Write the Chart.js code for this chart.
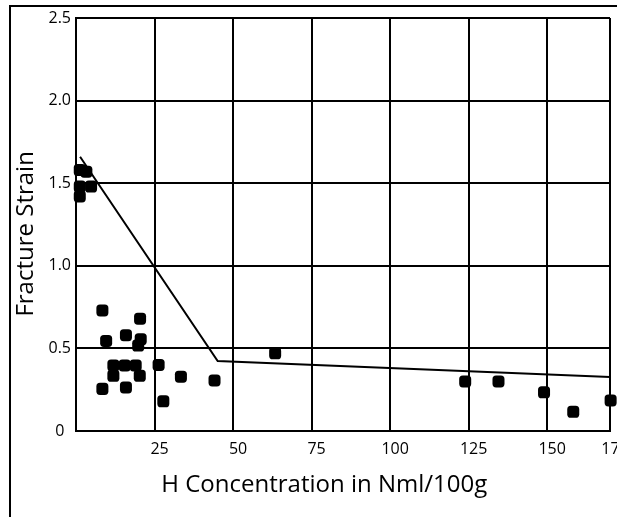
<!DOCTYPE html>
<html>
<head>
<meta charset="utf-8">
<script src="https://cdn.jsdelivr.net/npm/chart.js@4"></script>
<style>
  html, body { margin: 0; padding: 0; background: #fff; overflow: hidden; }
  #wrap { position: relative; width: 617px; height: 517px; }
  #frame { position: absolute; left: 9px; top: 5px; width: 700px; height: 600px;
           border-left: 2px solid #000; border-top: 2px solid #000; }
  #chart { position: absolute; left: 0; top: 0; }
</style>
</head>
<body>
<div id="wrap">
  <div id="frame"></div>
  <canvas id="chart" width="617" height="517"></canvas>
</div>
<script>
// measured points: H concentration (Nml/100g) vs fracture strain
var hConc = [1.2, 3.3, 1.2, 4.8, 1.2, 8.4, 20.4, 9.6, 15.9, 19.8, 20.6, 11.9, 15.5, 19.0,
             26.3, 11.9, 20.3, 8.4, 15.9, 33.4, 44.1, 27.8, 63.4, 123.9, 134.5, 149, 158.3, 170.2];
var strain = [1.58, 1.57, 1.48, 1.48, 1.42, 0.73, 0.68, 0.545, 0.58, 0.517, 0.556, 0.397, 0.397, 0.397,
              0.40, 0.334, 0.334, 0.255, 0.264, 0.329, 0.306, 0.18, 0.47, 0.30, 0.30, 0.234, 0.116, 0.185];

// fitted trend line (two segments)
var lineX = [1.3, 45.1, 170];
var lineY = [1.66, 0.424, 0.327];

var xTickValues = [25, 50, 75, 100, 125, 150, 170];
var xTickLabels = ['25', '50', '75', '100', '125', '150', '175'];
var yTickValues = [0, 0.5, 1, 1.5, 2, 2.5];
var yTickLabels = ['0', '0.5', '1.0', '1.5', '2.0', '2.5'];

var toXY = function(xs, ys) {
  return xs.map(function(x, i) { return { x: x, y: ys[i] }; });
};

// titles sit a bit off-centre in the original, trailing nbsp nudges them
var nbsp = function(n) { return new Array(n + 1).join('\u00a0'); };

var tickFont = { family: 'Open Sans', size: 16 };
var titleFont = { family: 'Open Sans', size: 24 };

new Chart(document.getElementById('chart').getContext('2d'), {
  type: 'scatter',
  data: {
    datasets: [
      {
        data: toXY(hConc, strain),
        pointStyle: 'rectRounded',
        pointRadius: 7,
        backgroundColor: '#000',
        borderColor: '#000',
        borderWidth: 0,
        clip: false
      },
      {
        data: toXY(lineX, lineY),
        showLine: true,
        borderColor: '#000',
        borderWidth: 2,
        pointRadius: 0,
        tension: 0
      }
    ]
  },
  options: {
    responsive: false,
    animation: false,
    layout: { padding: { left: 10, top: 18, right: 7, bottom: 0 } },
    plugins: { legend: { display: false }, tooltip: { enabled: false } },
    scales: {
      x: {
        type: 'linear',
        min: 0,
        max: 170,
        afterBuildTicks: function(scale) {
          scale.ticks = xTickValues.map(function(v) { return { value: v }; });
        },
        afterFit: function(scale) {
          scale.height = 86;
          scale.paddingLeft = 0;
          scale.paddingRight = 0;
        },
        ticks: {
          callback: function(v, i) { return xTickLabels[i]; },
          font: tickFont,
          color: '#000',
          padding: 9,
          labelOffset: 5,
          maxRotation: 0,
          autoSkip: false
        },
        grid: { color: '#000', lineWidth: 2, drawTicks: false },
        border: { color: '#000', width: 2 },
        title: {
          display: true,
          text: 'H Concentration in Nml/100g' + nbsp(6),
          font: titleFont,
          color: '#000',
          padding: { top: 0, bottom: 17 }
        }
      },
      y: {
        min: 0,
        max: 2.5,
        afterBuildTicks: function(scale) {
          scale.ticks = yTickValues.map(function(v) { return { value: v }; });
        },
        afterFit: function(scale) {
          scale.width = 66;
          scale.paddingTop = 0;
          scale.paddingBottom = 0;
        },
        ticks: {
          callback: function(v, i) { return yTickLabels[i]; },
          font: tickFont,
          color: '#000',
          padding: 5,
          crossAlign: 'center'
        },
        grid: { color: '#000', lineWidth: 2, drawTicks: false },
        border: { color: '#000', width: 2 },
        title: {
          display: true,
          text: 'Fracture Strain' + nbsp(3),
          font: titleFont,
          color: '#000',
          padding: { top: 2, bottom: 0 }
        }
      }
    }
  }
});
</script>
</body>
</html>
